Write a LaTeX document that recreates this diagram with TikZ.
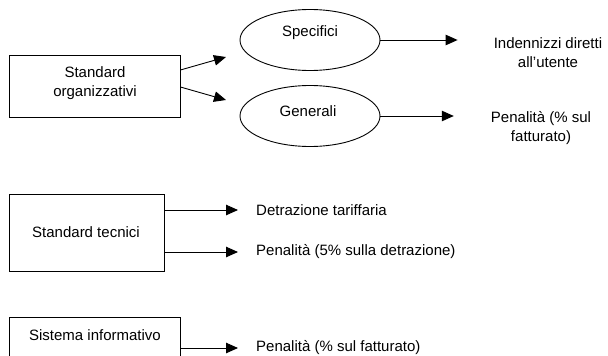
\documentclass[tikz,border=0pt]{standalone}
\usepackage{fontspec}
\setmainfont{Liberation Sans}
\usetikzlibrary{arrows.meta,shapes.geometric}
\tikzset{
  sanzBox/.style={draw=black,line width=0.9pt,rectangle,inner sep=0pt},
  sanzOval/.style={draw=black,line width=0.9pt,ellipse,inner sep=0pt,
    minimum width=140pt,minimum height=61pt},
  sanzText/.style={inner sep=0pt,align=center,
    font=\fontsize{15}{19}\selectfont},
  sanzArrow/.style={-{Triangle[length=12pt,width=10.5pt]},line width=0.9pt}
}
\begin{document}
\begin{tikzpicture}[x=1pt,y=-1pt]

    \useasboundingbox (0,0) rectangle (608,356);
    \clip (0,0) rectangle (608,356);

    % organisational standards
    \node[sanzBox,minimum width=171pt,minimum height=62pt]
      (org) at (94.5,86) {};
    \node[sanzText] (orgT) at (95,83) {Standard\\organizzativi};

    \node[sanzOval] (spec) at (310,40) {};
    \node[sanzText] (specT) at (310,33) {Specifici};
    \node[sanzOval] (gen) at (310,116) {};
    \node[sanzText] (genT) at (308,111) {Generali};

    \coordinate (specIn) at (226,57);
    \coordinate (genIn) at (226,100);
    \draw[sanzArrow] ([yshift=16pt]org.east) -- (specIn);
    \draw[sanzArrow] ([yshift=-1pt]org.east) -- (genIn);

    \node[sanzText] (ind) at (548,53)
      {Indennizzi diretti\\all’utente};
    \node[sanzText] (penG) at (541,128)
      {Penalità (\% sul\\fatturato)};

    \draw[sanzArrow,shorten >=36pt] (spec.east) -- (spec.east -| ind.west);
    \draw[sanzArrow,shorten >=37pt] (gen.east) -- (gen.east -| penG.west);

    % technical standards
    \node[sanzBox,minimum width=155pt,minimum height=77pt]
      (tec) at (86.5,232.5) {};
    \node[sanzText] (tecT) at (86,232) {Standard tecnici};

    \node[sanzText,anchor=west] (det) at (256,210) {Detrazione tariffaria};
    \node[sanzText,anchor=west] (penT) at (256,252)
      {Penalità (5\% sulla detrazione)};

    \draw[sanzArrow,shorten >=18pt] (tec.east |- det) -- (det.west);
    \draw[sanzArrow,shorten >=18pt] (tec.east |- penT) -- (penT.west);

    % information system
    \node[sanzBox,minimum width=171pt,minimum height=62pt,anchor=north]
      (sis) at (94.5,317) {};
    \node[sanzText] (sisT) at (95,335) {Sistema informativo};

    \node[sanzText,anchor=west] (penS) at (256,348)
      {Penalità (\% sul fatturato)};
    \draw[sanzArrow,shorten >=18pt] (sis.east |- penS) -- (penS.west);

  \end{tikzpicture}
\end{document}
